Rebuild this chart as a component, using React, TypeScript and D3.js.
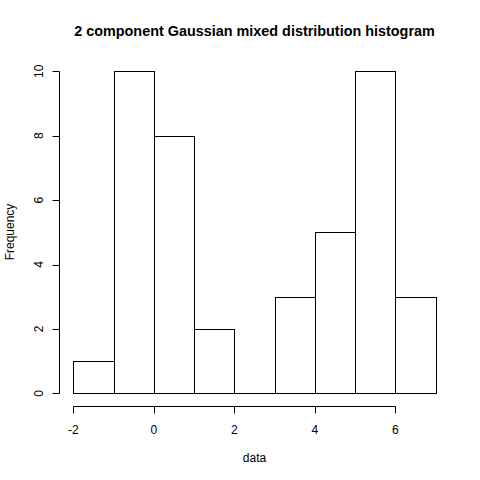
import React from "react";
import * as d3 from "d3";

const binStarts = [-2, -1, 0, 1, 2, 3, 4, 5, 6];
const binWidth = 1;
const counts = [1, 10, 8, 2, 0, 3, 5, 10, 3];
const xTicks = [-2, 0, 2, 4, 6];
const yTicks = [0, 2, 4, 6, 8, 10];
const title = "2 component Gaussian mixed distribution histogram";
const xLabel = "data";
const yLabel = "Frequency";

export default function App() {
  const W = 480, H = 480;
  const x = d3.scaleLinear().domain([-2, 7]).range([73.3, 435.7]);
  const y = d3.scaleLinear().domain([0, 10]).range([393.3, 71.3]);
  const font = "Liberation Sans, Arial, Helvetica, sans-serif";
  const px = (v: number) => Math.round(v) + 0.5;
  const axisY = 406.5;
  const axisX = 59.5;
  return (
    <svg width={W} height={H} style={{ position: "absolute", left: 0, top: 0, background: "#fff" }} fontFamily={font}>
      <rect x={0} y={0} width={W} height={H} fill="#fff" />
      {binStarts.map((b, i) =>
        counts[i] > 0 ? (
          <rect
            key={i}
            x={px(x(b))}
            y={px(y(counts[i]))}
            width={px(x(b + binWidth)) - px(x(b))}
            height={px(y(0)) - px(y(counts[i]))}
            fill="#fff"
            stroke="#000"
            strokeWidth={1}
          />
        ) : null
      )}
      <line x1={px(x(-2))} x2={px(x(7))} y1={px(y(0))} y2={px(y(0))} stroke="#000" />
      {/* x axis */}
      <line x1={px(x(xTicks[0]))} x2={px(x(xTicks[xTicks.length - 1]))} y1={axisY} y2={axisY} stroke="#000" />
      {xTicks.map((t) => (
        <g key={t}>
          <line x1={px(x(t))} x2={px(x(t))} y1={axisY} y2={axisY + 7} stroke="#000" />
          <text x={x(t)} y={433.5} textAnchor="middle" fontSize={12} fill="#000">
            {t}
          </text>
        </g>
      ))}
      {/* y axis */}
      <line x1={axisX} x2={axisX} y1={px(y(0))} y2={px(y(10))} stroke="#000" />
      {yTicks.map((t) => (
        <g key={t}>
          <line x1={axisX - 7} x2={axisX} y1={px(y(t))} y2={px(y(t))} stroke="#000" />
          <text
            transform={`translate(42.5,${y(t)}) rotate(-90)`}
            textAnchor="middle"
            fontSize={12}
            fill="#000"
          >
            {t}
          </text>
        </g>
      ))}
      <text x={254.5} y={36} textAnchor="middle" fontSize={14.4} fontWeight="bold" fill="#000">
        {title}
      </text>
      <text x={254.5} y={462} textAnchor="middle" fontSize={12} fill="#000">
        {xLabel}
      </text>
      <text transform={`translate(14,232) rotate(-90)`} textAnchor="middle" fontSize={12} fill="#000">
        {yLabel}
      </text>
    </svg>
  );
}
